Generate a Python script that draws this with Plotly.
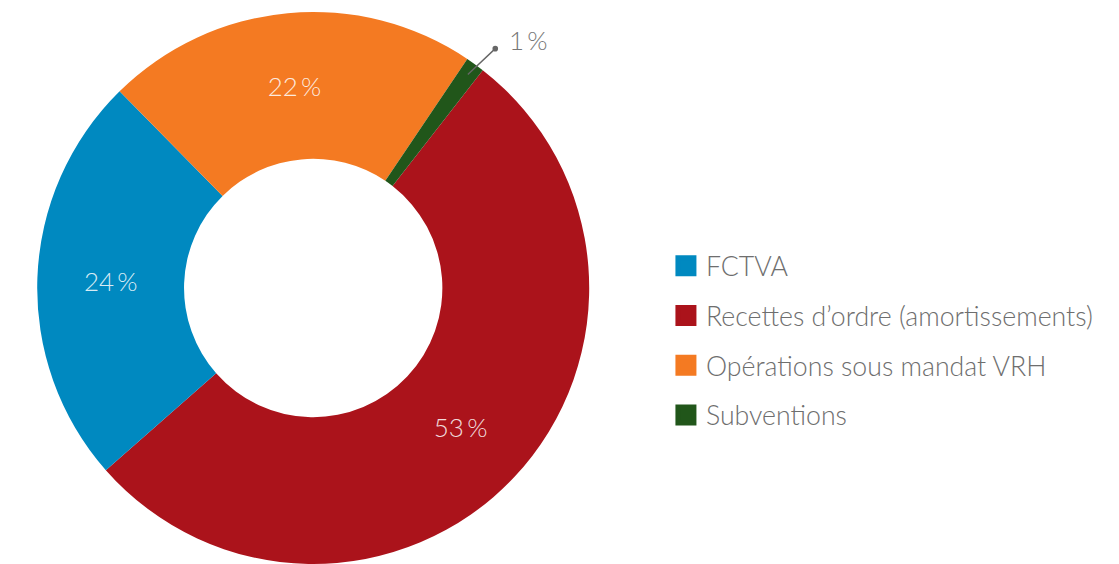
import math
import plotly.graph_objects as go

# ---- data ----
labels = ["FCTVA", "Recettes d’ordre (amortissements)", "Opérations sous mandat VRH", "Subventions"]
values = [24.1, 53.0, 21.8, 1.1]
colors = ["#0089C0", "#AB131B", "#F47A22", "#21561A"]
pie_order = [1, 0, 2, 3]          # clockwise drawing order
outside_label = 3                  # slice labelled outside with a leader line

# page body has an 8px margin: figure is sized/offset to compensate
W, H = 1111, 556
MT, MB, ML, MR = 4, 0, 0, 0
PW, PH = W - ML - MR, H - MT - MB
dom_x = [29.2 / PW, 581.2 / PW]
dom_y = [0, 1]
ROT = 37.9
HOLE = 0.468

total = sum(values)
pl = [labels[i] for i in pie_order]
pv = [values[i] for i in pie_order]
pc = [colors[i] for i in pie_order]
ptext = []
for i in pie_order:
    ptext.append("" if i == outside_label else f"{round(values[i] / total * 100)}\u2009%")

fig = go.Figure()
fig.add_trace(go.Pie(
    labels=pl, values=pv, text=ptext, texttemplate="%{text}",
    textposition="inside", insidetextorientation="horizontal",
    marker=dict(colors=pc, line=dict(width=0)),
    hole=HOLE, sort=False, direction="clockwise", rotation=ROT,
    domain=dict(x=dom_x, y=dom_y), showlegend=False,
    insidetextfont=dict(family="Lato", size=26, color="rgba(255,255,255,0.85)", weight=300),
    hoverinfo="label+percent",
))

# legend entries in original order
for lab, col in zip(labels, colors):
    fig.add_trace(go.Scatter(
        x=[None], y=[None], mode="markers", name=lab, legendgroup=lab,
        marker=dict(symbol="square", size=16, color=col, line=dict(width=5, color=col)),
    ))

# leader line + outside label for the small slice
cx_px = ML + (dom_x[0] + dom_x[1]) / 2 * PW
cy_px = MT + PH / 2
R = min((dom_x[1] - dom_x[0]) * PW, PH) / 2
before = 0
for i in pie_order:
    if i == outside_label:
        break
    before += values[i]
mid_deg = ROT + (before + values[outside_label] / 2) / total * 360
mid = math.radians(mid_deg)
tail = math.radians(mid_deg + 1.4)
r0, r1 = R * 0.955, R * 1.097
hx, hy = cx_px + r0 * math.sin(mid), cy_px - r0 * math.cos(mid)
tx, ty = cx_px + r1 * math.sin(tail), cy_px - r1 * math.cos(tail)

def to_paper(px, py):
    return (px - ML) / PW, (H - MB - py) / PH

hxp, hyp = to_paper(hx, hy)
txp, typ = to_paper(tx, ty)
fig.add_annotation(x=hxp, y=hyp, xref="paper", yref="paper", text="",
                   showarrow=True, ax=tx - hx, ay=ty - hy,
                   arrowside="start", startarrowhead=6, startarrowsize=1.0,
                   arrowwidth=1.4, arrowcolor="#666666", standoff=0, startstandoff=0)
fig.add_annotation(x=txp, y=typ, xref="paper", yref="paper",
                   text=f"{round(values[outside_label] / total * 100)}\u2009%",
                   showarrow=False, xanchor="left", yanchor="middle", xshift=10, yshift=7,
                   font=dict(family="Lato", size=26, color="#777777", weight=300))

fig.update_layout(
    width=W, height=H,
    margin=dict(t=MT, b=MB, l=ML, r=MR, pad=0),
    paper_bgcolor="white", plot_bgcolor="white",
    xaxis=dict(visible=False), yaxis=dict(visible=False),
    legend=dict(x=0.5922, y=0.405, xanchor="left", yanchor="middle",
                font=dict(family="Lato", size=26.7, color="#6e6e6e", weight=300),
                traceorder="grouped", tracegroupgap=12, itemsizing="trace",
                bgcolor="rgba(0,0,0,0)"),
    showlegend=True,
)

fig.write_html("out.html")
